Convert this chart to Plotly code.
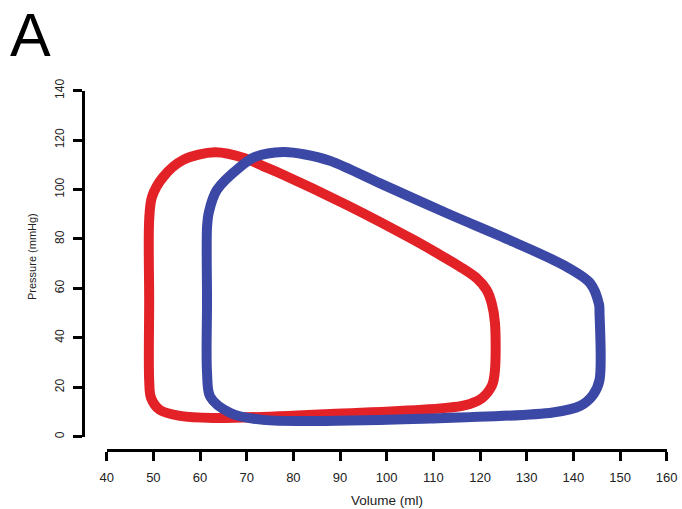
import plotly.graph_objects as go

# Pressure-volume loops (volume in ml, pressure in mmHg)
red_volume = [49.1, 49.1, 49.5, 51.4, 55.7, 62.8, 87.9, 116.4, 120.4, 122.6, 123.2,
              123.2, 122.5, 121.4, 119.3, 115.7, 111.4, 105.7, 91.4, 77.1, 73.5,
              69.6, 63.2, 56.4, 52.1, 49.7, 49.1, 49.1]
red_pressure = [55.2, 22.9, 15.7, 10.8, 8.4, 7.6, 9.2, 12.6, 15.6, 20.9, 27.0,
                46.0, 54.0, 59.4, 64.1, 68.8, 73.6, 79.7, 93.8, 106.6, 109.5,
                112.7, 115.1, 112.0, 105.1, 97.0, 87.7, 55.2]

blue_volume = [61.5, 61.5, 62.2, 66.5, 73.5, 109.3, 135.6, 141.4, 144.2, 145.6,
               145.6, 145.5, 143.6, 137.8, 127.1, 112.9, 98.6, 87.9, 82.5, 77.8,
               71.8, 68.6, 63.6, 61.9, 61.5, 61.5]
blue_pressure = [55.0, 25.8, 16.1, 9.6, 6.8, 7.4, 9.8, 12.4, 16.9, 22.9,
                 50.1, 53.5, 62.1, 69.5, 78.9, 90.4, 102.5, 111.6, 114.2, 115.2,
                 113.2, 109.2, 99.8, 90.9, 84.8, 55.0]

x_ticks = list(range(40, 161, 10))
y_ticks = list(range(0, 141, 20))

W, H = 682, 509
FONT = "Liberation Sans, Arial, Helvetica, sans-serif"

fig = go.Figure()
fig.add_trace(go.Scatter(x=red_volume, y=red_pressure, mode="lines",
                         line=dict(color="#E32228", width=10, shape="spline", smoothing=0.9),
                         hoverinfo="skip", showlegend=False))
fig.add_trace(go.Scatter(x=blue_volume, y=blue_pressure, mode="lines",
                         line=dict(color="#3C48A5", width=10, shape="spline", smoothing=0.9),
                         hoverinfo="skip", showlegend=False))

axis_common = dict(showgrid=False, zeroline=False, showline=True, linecolor="black",
                   linewidth=3, ticks="outside", ticklen=9, tickwidth=3, tickcolor="black",
                   anchor="free", automargin=False)

fig.update_layout(
    width=W, height=H,
    margin=dict(l=0, r=0, t=0, b=0),
    paper_bgcolor="white", plot_bgcolor="white",
    font=dict(family=FONT, color="#222222"),
    xaxis=dict(**axis_common, domain=[106.7 / W, 666.7 / W], range=[40, 160],
               tickvals=x_ticks, ticktext=[str(v) for v in x_ticks],
               position=1 - 449.5 / H, tickfont=dict(size=13), ticklabelstandoff=6),
    yaxis=dict(**axis_common, domain=[1 - 436.7 / H, 1 - 90.7 / H], range=[0, 140],
               tickvals=y_ticks, ticktext=[str(v) for v in y_ticks],
               position=83.3 / W, tickangle=-90, tickfont=dict(size=12), ticklabelstandoff=5),
    annotations=[
        dict(text="Volume (ml)", x=386.7 / W, y=1 - 500 / H, xref="paper", yref="paper",
             xanchor="center", yanchor="middle", showarrow=False, font=dict(size=13.5)),
        dict(text="Pressure (mmHg)", x=32 / W, y=1 - 257 / H, xref="paper", yref="paper",
             xanchor="center", yanchor="middle", textangle=-90, showarrow=False,
             font=dict(size=11)),
        dict(text="A", x=30.5 / W, y=1, xref="paper", yref="paper",
             xanchor="center", yanchor="top", showarrow=False, borderpad=0,
             font=dict(size=61, color="black")),
    ],
)

fig.write_html("out.html")
